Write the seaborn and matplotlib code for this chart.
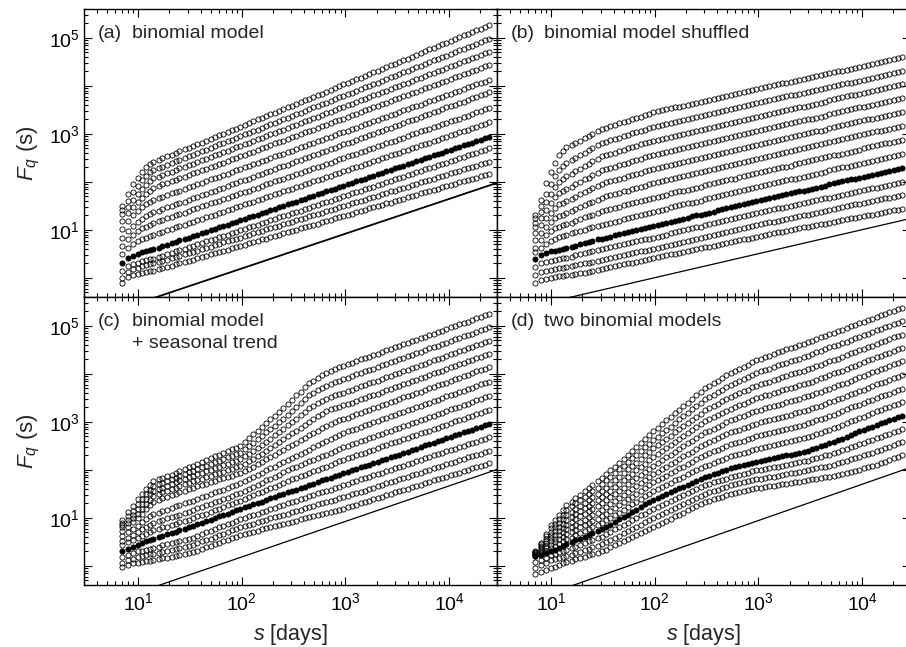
import numpy as np
import matplotlib
matplotlib.use("Agg")
import matplotlib.pyplot as plt
import seaborn as sns
from matplotlib.ticker import LogLocator, FuncFormatter, NullFormatter

# window sizes s [days]
s_days = [7, 8, 9, 10, 11, 12, 13, 14, 16, 17, 19, 21, 23, 25, 28, 31, 34, 37, 41, 45,
          50, 55, 60, 66, 73, 80, 88, 97, 107, 117, 129, 142, 156, 172, 189, 208, 229, 252, 277, 305,
          335, 369, 406, 446, 491, 540, 594, 653, 719, 791, 870, 957, 1052, 1157, 1273, 1400, 1540, 1694, 1864, 2050,
          2255, 2481, 2729, 3002, 3302, 3632, 3995, 4395, 4834, 5318, 5850, 6435, 7078, 7786, 8565, 9421, 10363, 11400, 12540, 13794,
          15173, 16690, 18359, 20195, 22215, 24436]

# log10 F_q(s) x 100, one list per q (top curve first); panel (a)
logF_a = [
    [150,175,195,208,220,230,237,242,246,249,253,257,260,264,268,271,275,279,282,286,289,293,297,300,304,308,311,315,319,322,326,330,333,337,341,344,348,352,355,359,362,366,370,373,377,381,384,388,392,395,399,403,406,410,414,417,421,425,428,432,435,439,443,446,450,454,457,461,465,468,472,476,479,483,487,490,494,498,501,505,508,512,516,519,523,527],
    [142,160,178,192,204,213,220,225,229,232,236,239,243,246,250,253,257,260,264,267,271,274,278,281,285,288,292,295,299,302,306,309,313,316,320,323,327,330,334,337,341,344,348,351,355,358,362,365,369,372,376,379,383,386,390,393,397,400,404,407,411,414,418,421,425,428,432,435,439,442,446,449,453,456,460,463,467,470,474,477,481,484,488,491,495,498],
    [133,148,162,174,185,194,202,208,211,215,218,221,225,228,232,235,238,242,245,248,252,255,259,262,265,269,272,275,279,282,286,289,292,296,299,302,306,309,313,316,319,323,326,329,333,336,340,343,346,350,353,356,360,363,366,370,373,377,380,383,387,390,393,397,400,404,407,410,414,417,420,424,427,431,434,437,441,444,447,451,454,458,461,464,468,471],
    [119,135,148,158,167,175,182,188,191,195,198,201,204,208,211,214,218,221,224,227,231,234,237,240,244,247,250,254,257,260,263,267,270,273,277,280,283,286,290,293,296,300,303,306,309,313,316,319,322,326,329,332,336,339,342,345,349,352,355,359,362,365,368,372,375,378,382,385,388,391,395,398,401,404,408,411,414,418,421,424,427,431,434,437,441,444],
    [102,118,130,139,147,153,158,163,166,169,173,176,179,182,185,189,192,195,198,201,205,208,211,214,217,221,224,227,230,233,237,240,243,246,249,253,256,259,262,265,269,272,275,278,281,285,288,291,294,297,301,304,307,310,313,317,320,323,326,329,333,336,339,342,345,349,352,355,358,361,365,368,371,374,377,381,384,387,390,393,397,400,403,406,409,413],
    [84,98,108,116,123,128,133,137,140,143,147,150,153,156,159,163,166,169,172,175,179,182,185,188,191,195,198,201,204,207,211,214,217,220,223,227,230,233,236,239,243,246,249,252,255,259,262,265,268,271,275,278,281,284,287,291,294,297,300,303,307,310,313,316,319,323,326,329,332,335,339,342,345,348,351,355,358,361,364,367,371,374,377,380,383,387],
    [67,80,90,97,103,107,111,115,118,121,124,127,130,133,136,139,143,146,149,152,155,158,161,164,167,170,173,176,179,182,185,188,192,195,198,201,204,207,210,213,216,219,222,225,228,231,234,237,240,244,247,250,253,256,259,262,265,268,271,274,277,280,283,286,289,292,296,299,302,305,308,311,314,317,320,323,326,329,332,335,338,341,345,348,351,354],
    [50,62,70,76,81,84,87,90,93,96,99,102,105,108,111,114,117,120,123,126,129,132,135,138,141,144,147,150,153,156,159,162,165,168,171,174,177,180,183,186,189,192,195,198,201,204,207,210,213,216,219,222,225,228,231,234,237,240,243,246,249,252,255,258,261,264,267,270,273,276,279,282,285,288,291,294,297,300,303,306,309,312,315,318,321,324],
    [31,42,46,50,53,55,58,60,63,66,69,72,75,78,81,84,87,90,93,96,99,102,105,108,111,114,117,120,123,126,129,132,135,138,141,144,147,150,153,156,159,162,165,168,171,174,177,180,183,186,189,192,195,198,201,204,207,210,213,216,219,222,225,228,231,234,237,240,243,246,249,252,255,258,261,264,267,270,273,276,279,282,285,288,291,294],
    [15,24,29,32,35,37,39,40,43,46,49,52,55,58,61,64,67,70,73,76,79,82,85,88,90,93,96,99,102,105,108,111,114,117,120,123,126,129,132,135,138,140,143,146,149,152,155,158,161,164,167,170,173,176,179,182,185,188,190,193,196,199,202,205,208,211,214,217,220,223,226,229,232,235,238,240,243,246,249,252,255,258,261,264,267,270],
    [0,12,18,21,24,26,28,30,33,35,38,41,44,46,49,52,54,57,60,63,65,68,71,74,76,79,82,84,87,90,93,95,98,101,103,106,109,112,114,117,120,122,125,128,131,133,136,139,142,144,147,150,152,155,158,161,163,166,169,171,174,177,180,182,185,188,190,193,196,199,201,204,207,210,212,215,218,220,223,226,229,231,234,237,239,242],
    [-10,2,6,9,11,13,14,15,18,20,23,25,28,31,33,36,38,41,43,46,49,51,54,56,59,62,64,67,69,72,75,77,80,82,85,88,90,93,95,98,100,103,106,108,111,113,116,119,121,124,126,129,132,134,137,139,142,145,147,150,152,155,157,160,163,165,168,170,173,176,178,181,183,186,189,191,194,196,199,201,204,207,209,212,214,217],
]

logF_b = [
    [130,163,198,220,240,255,265,272,277,281,286,291,296,300,305,310,313,316,319,322,325,327,330,333,336,339,342,345,347,349,351,353,355,357,359,361,363,365,367,369,371,373,375,377,379,381,383,385,387,389,391,393,395,397,399,401,403,405,407,409,411,413,415,417,419,421,423,425,426,428,430,432,434,436,438,440,442,444,446,448,450,452,454,456,458,460],
    [125,150,175,195,212,225,234,240,245,250,255,261,266,271,276,281,284,287,290,292,295,298,301,304,307,309,312,315,317,319,321,323,325,327,329,331,333,335,337,340,342,344,346,348,350,352,354,356,358,360,362,364,366,368,370,372,374,376,378,380,382,384,386,388,390,392,394,396,397,399,401,403,405,407,409,411,413,415,417,419,421,423,425,427,429,431],
    [115,138,158,175,190,200,207,212,217,222,227,233,238,243,248,253,256,259,261,264,267,270,272,275,278,281,283,286,288,290,292,294,296,298,300,302,304,306,308,311,313,315,317,319,321,323,325,327,329,331,333,335,337,339,341,343,345,347,349,351,353,355,357,359,361,363,365,367,370,372,374,376,378,380,382,384,386,388,390,392,394,396,398,400,402,404],
    [107,125,142,156,168,177,182,185,190,195,200,205,209,214,219,224,227,229,232,235,237,240,243,245,248,251,253,256,258,260,262,264,266,268,271,273,275,277,279,281,283,285,287,289,291,293,296,298,300,302,304,306,308,310,312,314,316,318,320,322,324,326,328,330,332,334,336,338,341,343,345,347,349,351,353,355,357,359,361,363,365,367,369,371,373,375],
    [94,110,124,136,146,153,157,160,165,169,174,178,183,187,192,196,199,201,204,206,209,212,214,217,219,222,225,227,229,231,233,235,237,239,242,244,246,248,250,252,254,256,258,260,262,264,267,269,271,273,275,277,279,281,283,285,287,289,291,293,295,297,299,301,303,305,307,309,312,314,316,318,320,322,324,326,328,330,332,334,336,338,340,342,344,346],
    [78,94,106,116,124,129,132,135,139,143,147,151,155,159,163,167,170,172,175,177,180,182,185,187,190,192,195,197,199,201,203,206,208,210,212,214,216,218,220,223,225,227,229,231,233,235,237,240,242,244,246,248,250,252,254,256,258,260,262,264,266,268,270,272,274,276,278,280,283,285,287,289,291,293,295,297,299,301,303,305,307,309,311,313,315,317],
    [62,78,89,97,103,107,110,112,115,119,122,126,129,132,136,139,141,144,146,148,151,153,155,158,160,162,165,167,169,171,173,176,178,180,182,184,186,188,190,193,195,197,199,201,203,205,207,210,212,214,216,218,220,222,224,226,228,230,232,234,237,239,241,243,245,247,249,251,253,255,257,259,261,263,265,267,270,272,274,276,278,280,282,284,286,288],
    [54,63,71,77,82,85,88,90,93,95,98,100,103,105,108,110,112,115,117,119,122,124,126,129,131,133,136,138,140,142,144,147,149,151,153,155,157,159,161,164,166,168,170,172,174,176,178,181,183,185,187,189,191,193,195,197,199,201,203,205,207,209,211,213,215,217,219,221,224,226,228,230,232,234,236,238,240,242,244,246,248,250,252,254,256,258],
    [39,48,52,55,57,59,61,62,65,67,70,72,75,77,80,82,84,86,89,91,93,95,97,99,102,104,106,108,110,112,115,117,119,121,123,125,128,130,132,134,136,138,141,143,145,147,149,151,154,156,158,160,162,164,166,168,170,172,174,176,178,180,182,184,186,188,190,192,195,197,199,201,203,205,207,209,211,213,215,217,219,221,223,225,227,229],
    [23,30,33,35,37,39,41,42,44,47,49,51,53,56,58,60,62,64,66,68,70,72,74,76,78,80,82,84,86,88,90,93,95,97,99,101,103,105,107,110,112,114,116,118,120,122,124,127,129,131,133,135,137,139,141,143,145,146,148,150,152,154,156,158,160,162,164,166,167,169,171,173,175,177,179,181,183,185,187,188,190,192,194,196,198,200],
    [6,12,15,17,18,20,21,22,24,26,28,30,32,34,36,38,40,42,44,46,48,50,51,53,55,57,59,61,63,65,67,69,71,73,75,77,79,81,83,85,88,90,92,94,96,98,100,102,104,106,108,110,112,114,116,117,119,121,123,125,127,129,130,132,134,136,138,140,142,143,145,147,149,151,153,154,156,158,160,162,164,166,167,169,171,173],
    [-10,-5,-2,0,1,3,4,5,7,8,10,11,13,15,16,18,20,22,24,26,28,30,31,33,35,37,39,41,43,45,47,49,50,52,54,56,58,60,62,64,65,67,69,71,73,75,77,79,80,82,84,86,88,89,91,93,95,96,98,100,101,103,105,106,108,110,112,113,115,117,118,120,122,124,125,127,129,130,132,134,135,137,139,141,142,144],
]

logF_c = [
    [95,112,125,140,150,160,168,176,180,183,187,190,194,198,201,205,209,213,216,220,224,228,231,235,239,243,246,250,258,266,274,282,290,297,305,313,321,329,338,346,355,363,372,380,386,392,397,402,406,410,414,417,420,423,427,430,433,436,439,442,446,449,452,455,458,462,465,468,471,474,477,481,484,487,490,493,497,500,503,506,509,512,516,519,522,525],
    [90,103,115,128,140,150,158,166,170,173,177,180,184,188,191,195,198,202,205,209,212,216,219,222,226,229,233,236,243,250,257,264,271,278,285,292,299,307,315,323,331,339,347,355,361,366,371,375,379,383,386,389,392,395,399,402,405,408,411,414,418,421,424,427,430,434,437,440,443,446,449,453,456,459,462,465,469,472,475,478,481,484,488,491,494,497],
    [85,96,107,118,129,140,149,156,160,163,167,170,174,178,181,185,188,191,194,197,200,203,207,210,213,216,219,222,228,234,240,246,252,258,265,272,279,286,293,300,307,314,321,328,334,339,344,348,352,355,358,361,364,367,371,374,377,380,383,386,390,393,396,399,402,406,409,412,415,418,421,425,428,431,434,437,441,444,447,450,453,456,460,463,466,469],
    [80,89,99,109,119,128,137,146,149,153,156,160,163,166,170,173,176,179,182,185,188,191,193,196,199,202,205,208,213,218,223,228,234,240,246,252,258,264,270,276,282,288,294,300,306,312,317,322,326,329,332,335,337,340,344,347,350,353,356,359,363,366,369,372,375,379,382,385,388,391,394,398,401,404,407,410,414,417,420,423,426,429,433,436,439,442],
    [72,82,91,100,109,118,126,134,137,141,144,147,150,154,157,160,163,166,168,171,174,177,180,183,185,188,191,194,198,202,207,212,217,222,227,232,237,242,247,252,257,262,267,272,277,282,287,291,295,299,303,306,309,312,316,319,322,325,328,331,335,338,341,344,347,351,354,357,360,363,366,370,373,376,379,382,386,389,392,395,398,401,405,408,411,414],
    [62,70,77,84,91,97,103,108,111,114,117,121,124,127,130,133,136,140,143,146,149,153,156,159,162,166,169,172,176,181,185,190,194,199,203,207,212,216,221,225,229,234,238,242,247,251,255,260,264,268,273,277,280,283,286,290,293,296,299,302,305,308,312,315,318,321,324,327,330,334,337,340,343,346,349,353,356,359,362,365,368,371,375,378,381,384],
    [52,59,65,71,76,81,86,90,93,96,99,101,104,107,110,113,116,120,123,126,129,133,136,139,142,146,149,152,156,161,165,169,173,178,182,186,190,195,199,203,207,210,214,218,221,225,229,232,236,240,243,247,250,253,256,260,263,266,269,272,275,278,282,285,288,291,294,297,300,304,307,310,313,316,319,323,326,329,332,335,338,341,345,348,351,354],
    [43,49,54,59,63,67,71,74,77,80,82,85,88,91,93,96,99,103,106,109,113,116,119,123,126,129,133,136,140,143,147,151,154,158,162,165,169,173,176,180,183,187,190,194,197,200,204,207,211,214,218,221,224,227,230,233,236,239,242,245,249,252,255,258,261,264,267,270,273,276,279,282,285,288,291,294,297,301,304,307,310,313,316,319,322,325],
    [30,36,40,44,47,51,54,57,60,63,66,69,71,74,77,80,83,87,90,93,96,100,103,106,109,113,116,119,122,125,128,131,134,137,141,144,147,150,153,156,159,162,165,168,171,174,178,181,184,187,190,193,196,199,202,205,208,211,214,217,220,223,226,229,232,235,238,241,244,248,251,254,257,260,263,266,269,272,275,278,281,284,287,290,293,296],
    [18,23,27,30,32,34,36,38,40,43,45,47,49,52,54,56,59,63,66,70,73,76,80,83,87,90,94,97,100,103,106,109,112,115,118,121,124,127,130,133,136,139,142,145,148,151,153,156,159,162,165,168,171,174,177,180,183,186,189,192,194,197,200,203,206,209,212,215,218,221,224,227,230,233,236,239,242,244,247,250,253,256,259,262,265,268],
    [7,12,15,18,20,22,24,25,27,29,31,33,35,37,39,41,44,48,51,54,57,61,64,67,70,74,77,80,83,85,88,91,93,96,99,101,104,107,109,112,115,117,120,122,125,128,130,133,135,138,141,143,146,149,152,154,157,160,163,166,169,172,174,177,180,183,186,189,192,194,197,200,203,206,209,212,214,217,220,223,226,229,231,234,237,240],
    [-3,2,5,7,9,10,11,12,14,16,17,19,21,23,24,26,29,32,36,39,42,45,48,51,54,58,61,64,66,69,71,73,76,78,80,83,85,87,90,92,94,97,99,101,103,106,108,110,112,115,117,119,122,125,127,130,133,136,139,141,144,147,150,153,155,158,161,164,167,169,172,175,178,180,183,186,189,192,194,197,200,203,206,208,211,214],
]

logF_d = [
    [30,48,67,85,96,106,117,127,134,141,148,155,162,169,176,183,191,199,207,215,223,232,240,248,256,264,272,280,288,295,303,310,318,325,333,340,348,355,363,370,375,381,386,391,397,402,406,411,415,419,424,428,431,435,438,441,445,448,451,454,457,460,463,466,469,473,476,479,483,486,489,492,495,499,502,505,508,512,515,519,522,525,528,532,535,538],
    [29,45,62,78,88,98,107,117,124,130,137,144,150,157,163,170,178,185,193,201,208,216,224,231,239,247,254,262,269,276,283,290,297,305,312,319,326,333,340,347,352,357,362,367,372,377,381,386,389,393,398,402,405,408,411,414,418,421,423,426,429,432,435,438,441,445,448,451,455,458,461,464,467,471,474,477,480,484,487,491,494,497,500,504,507,510],
    [28,42,57,71,80,89,98,107,113,119,125,132,138,144,150,156,163,171,178,186,193,201,208,215,223,230,238,245,252,258,265,271,278,285,291,298,304,311,317,324,328,334,338,343,348,352,356,360,364,367,372,375,378,382,384,387,390,393,396,399,401,404,407,410,413,416,419,422,426,429,432,435,439,443,446,449,452,456,459,463,466,469,472,476,479,482],
    [26,39,51,64,72,80,88,96,102,108,114,120,125,131,137,143,150,157,164,171,178,185,192,199,206,213,220,227,233,239,245,252,258,264,270,276,283,289,295,301,305,310,314,318,323,327,331,335,338,341,346,349,352,355,357,360,363,366,368,371,373,376,379,381,384,388,391,394,398,401,404,407,410,414,417,421,424,428,431,435,438,441,444,448,451,454],
    [25,36,47,58,65,72,79,86,92,97,103,108,114,119,125,130,137,143,150,156,163,170,176,183,189,196,202,209,215,221,226,232,238,244,249,255,261,267,272,278,282,286,290,294,299,303,306,310,313,316,320,323,325,328,331,333,336,338,341,343,346,348,351,353,356,360,363,366,369,372,376,379,382,386,389,393,396,400,403,407,410,413,416,420,423,426],
    [24,33,42,51,57,64,70,76,81,86,91,96,101,106,111,116,122,129,135,141,147,154,160,166,172,179,185,191,196,202,207,212,217,223,228,233,238,244,249,254,258,262,266,270,274,278,280,284,287,290,293,296,299,301,304,305,308,311,313,315,318,320,322,325,328,331,334,337,341,344,347,350,354,358,361,364,367,371,374,378,381,384,387,391,394,397],
    [22,29,37,44,50,55,61,66,71,75,80,85,89,94,98,103,109,115,121,127,133,139,144,150,156,162,168,174,179,184,188,193,198,203,207,212,217,222,226,231,235,239,242,246,249,253,255,259,261,264,267,270,272,275,277,278,281,283,285,288,290,292,294,297,300,303,306,309,312,315,319,322,326,330,333,336,339,343,346,350,353,356,359,363,366,369],
    [21,26,32,37,42,46,51,55,59,64,68,72,76,81,85,89,95,100,106,111,117,123,128,134,139,145,150,156,160,165,169,173,178,182,186,191,195,199,204,208,211,215,218,221,225,228,230,233,236,238,241,243,246,248,250,251,253,256,258,260,262,264,266,268,271,274,277,280,284,287,290,293,297,301,304,308,311,315,318,322,325,328,331,335,338,341],
    [20,23,27,30,34,38,41,45,49,53,57,61,64,68,72,76,81,86,92,97,102,107,112,117,122,128,133,138,142,146,150,154,158,162,165,169,173,177,181,185,188,191,194,197,200,203,205,208,210,212,215,217,219,221,223,224,226,228,230,232,234,236,238,240,243,246,249,252,255,258,262,265,269,273,276,280,283,287,290,294,297,300,303,307,310,313],
    [8,13,17,22,25,28,30,33,37,40,44,47,51,54,58,61,66,71,76,80,85,90,95,100,105,109,114,119,123,127,131,135,139,144,148,152,156,160,164,168,171,174,176,179,182,185,187,190,192,194,197,199,200,202,204,205,207,209,210,212,214,216,218,219,222,224,227,230,232,235,238,241,244,247,250,253,256,260,263,266,269,272,275,279,282,285],
    [-4,1,7,12,14,16,18,20,23,26,29,33,36,39,42,45,50,54,59,63,68,73,77,82,86,91,95,100,104,108,113,117,121,125,129,133,138,142,146,150,153,156,159,162,165,168,170,172,174,176,178,180,182,184,185,186,188,189,191,193,194,195,197,199,201,203,205,207,209,211,214,216,219,222,224,227,230,233,235,239,242,245,248,252,255,258],
    [-16,-12,-9,-5,-2,2,5,8,11,14,16,19,22,25,27,30,34,39,43,47,51,56,60,64,68,73,77,81,85,90,94,98,103,107,111,116,120,124,129,133,136,139,141,144,147,150,152,154,156,158,160,162,163,165,166,167,169,170,171,173,174,175,177,178,180,181,183,185,186,188,190,192,194,196,198,200,203,206,208,211,214,217,220,224,227,230],
]

filled_series = 8          # index of the filled-circle curve in each panel
panel_tags = ["(a)", "(b)", "(c)", "(d)"]
panel_titles = [["binomial model"], ["binomial model shuffled"],
                ["binomial model", "+ seasonal trend"], ["two binomial models"]]

# straight reference lines (end points)
ref_s = [3, 29000]
ref_F = [[0.124, 95.5], [0.175, 17.2], [0.115, 102.0], [0.11, 112.0]]
ref_lw = [1.3, 0.9, 0.9, 0.9]

XLIM = (3, 29000)
YLIM = (0.4, 4e5)

for name, data in [("a", logF_a), ("b", logF_b), ("c", logF_c), ("d", logF_d)]:
    for i, v in enumerate(data):
        if len(v) != len(s_days):
            raise ValueError(f"panel {name} series {i} has {len(v)} points")

sns.set_theme(style="ticks")
plt.rcParams["font.family"] = ["Liberation Sans", "DejaVu Sans"]
plt.rcParams["mathtext.fontset"] = "custom"
plt.rcParams["mathtext.rm"] = "Liberation Sans"
plt.rcParams["mathtext.it"] = "Liberation Sans:italic"
plt.rcParams["mathtext.bf"] = "Liberation Sans:bold"
plt.rcParams["axes.edgecolor"] = "black"
plt.rcParams["axes.linewidth"] = 1.0
plt.rcParams["xtick.color"] = "black"
plt.rcParams["ytick.color"] = "black"

fig = plt.figure(figsize=(9.06, 6.47), dpi=100)
W = 413 / 906
H = 288 / 647
lefts = [84 / 906, 497 / 906]
bottoms = [(647 - 585) / 647 + H, (647 - 585) / 647]


def fmt_x(v, pos):
    if not (XLIM[0] <= v <= XLIM[1]):
        return ""
    e = int(round(np.log10(v)))
    return r"$\mathregular{10^{%d}}$" % e


def fmt_y(v, pos):
    if not (YLIM[0] <= v <= YLIM[1]):
        return ""
    e = int(round(np.log10(v)))
    if e % 2 == 1:
        return r"$\mathregular{10^{%d}}$" % e
    return ""


panels = [logF_a, logF_b, logF_c, logF_d]
for k, data in enumerate(panels):
    row, col = divmod(k, 2)
    ax = fig.add_axes([lefts[col], bottoms[row], W, H])
    ax.set_xscale("log")
    ax.set_yscale("log")
    for i, vals in enumerate(data):
        F = 10 ** (np.asarray(vals, dtype=float) / 100.0)
        filled = (i == filled_series)
        sns.lineplot(x=s_days, y=F, ax=ax, estimator=None, sort=False,
                     linestyle="none", marker="o", markersize=3.7,
                     markerfacecolor="black" if filled else "none",
                     markeredgecolor="black", markeredgewidth=0.6,
                     color="black")
    sns.lineplot(x=ref_s, y=ref_F[k], ax=ax, estimator=None, sort=False,
                 color="black", linewidth=ref_lw[k])

    ax.set_xlim(*XLIM)
    ax.set_ylim(*YLIM)
    ax.xaxis.set_major_locator(LogLocator(base=10, numticks=20))
    ax.xaxis.set_minor_locator(LogLocator(base=10, subs=np.arange(2, 10), numticks=200))
    ax.yaxis.set_major_locator(LogLocator(base=10, numticks=20))
    ax.yaxis.set_minor_locator(LogLocator(base=10, subs=np.arange(2, 10), numticks=200))
    ax.xaxis.set_minor_formatter(NullFormatter())
    ax.yaxis.set_minor_formatter(NullFormatter())
    ax.xaxis.set_major_formatter(FuncFormatter(fmt_x))
    ax.yaxis.set_major_formatter(FuncFormatter(fmt_y))
    ax.tick_params(which="both", direction="in", top=True, right=True,
                   width=0.8, labelsize=14)
    ax.tick_params(which="major", length=6)
    ax.tick_params(which="minor", length=3)
    ax.tick_params(axis="x", pad=5)
    ax.tick_params(axis="y", pad=3)
    if row == 0:
        ax.tick_params(labelbottom=False)
    else:
        ax.set_xlabel(r"$s$ [days]", fontsize=15.5, labelpad=6)
    if col == 1:
        ax.tick_params(labelleft=False)
    else:
        ax.set_ylabel(r"$F_q$ (s)", fontsize=16, labelpad=5)
    ax.grid(False)

    ax.text(13.5 / 413, 1 - 25 / 288, panel_tags[k], transform=ax.transAxes,
            fontsize=14, ha="left", va="center")
    for j, line in enumerate(panel_titles[k]):
        ax.text(47.5 / 413, 1 - (25 + 21 * j) / 288, line, transform=ax.transAxes,
                fontsize=14, ha="left", va="center")

fig.savefig("out.png", dpi=100)
